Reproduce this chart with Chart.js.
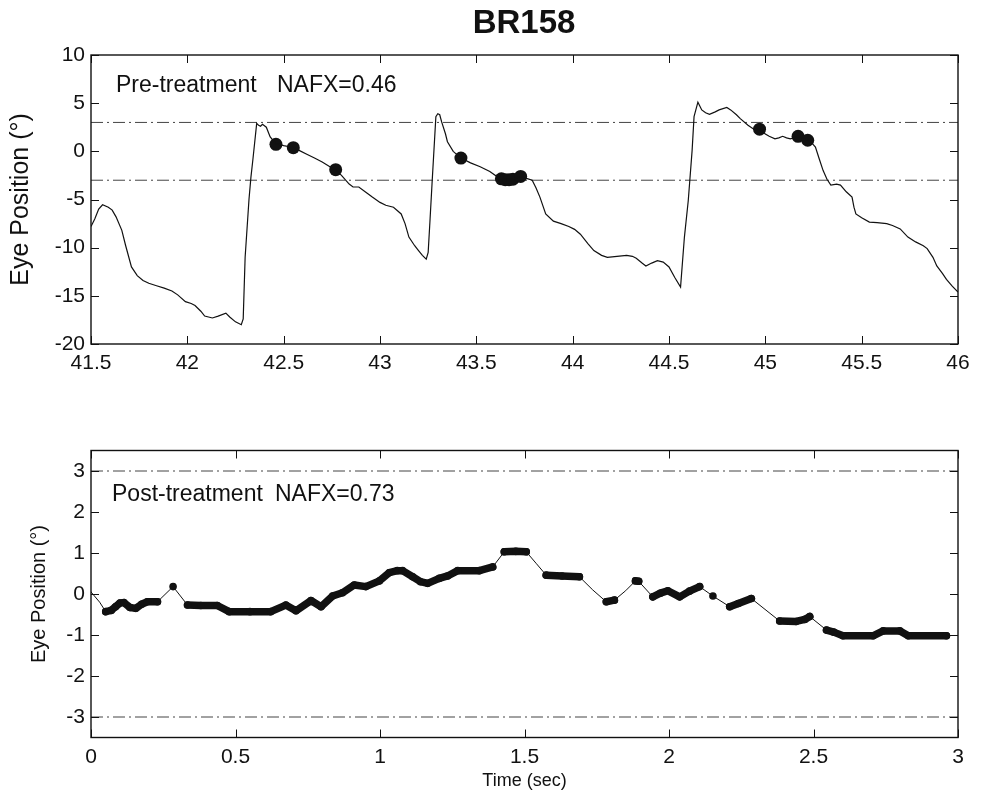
<!DOCTYPE html>
<html>
<head>
<meta charset="utf-8">
<script src="https://cdn.jsdelivr.net/npm/chart.js@4.4.1/dist/chart.umd.min.js"></script>
<style>
  body { margin: 0; background: #fff; }
  canvas { position: absolute; left: 0; }
  #graficoPre { top: 0; }
  #graficoPost { top: 400px; }
</style>
</head>
<body>
<canvas id="graficoPre" width="987" height="400"></canvas>
<canvas id="graficoPost" width="987" height="396"></canvas>
<script>
// ---- datos: pre-tratamiento (tiempo en s, posición en grados) ----
const preTime = [41.50, 41.52, 41.54, 41.56, 41.59, 41.61, 41.63, 41.66, 41.68, 41.71, 41.74, 41.77, 41.80, 41.84, 41.88, 41.92, 41.95, 41.99, 42.02, 42.04, 42.07, 42.09, 42.13, 42.16, 42.20, 42.22, 42.25, 42.28, 42.29, 42.30, 42.32, 42.33, 42.34, 42.36, 42.37, 42.38, 42.39, 42.41, 42.43, 42.46, 42.50, 42.55, 42.58, 42.62, 42.66, 42.70, 42.74, 42.77, 42.80, 42.84, 42.86, 42.89, 42.93, 42.96, 43.00, 43.03, 43.07, 43.11, 43.13, 43.15, 43.18, 43.20, 43.22, 43.24, 43.25, 43.26, 43.27, 43.29, 43.30, 43.31, 43.32, 43.34, 43.35, 43.38, 43.42, 43.47, 43.52, 43.57, 43.62, 43.66, 43.70, 43.73, 43.76, 43.79, 43.81, 43.83, 43.86, 43.90, 43.94, 43.98, 44.01, 44.04, 44.08, 44.11, 44.15, 44.18, 44.23, 44.28, 44.31, 44.33, 44.36, 44.38, 44.41, 44.44, 44.47, 44.50, 44.53, 44.56, 44.58, 44.60, 44.62, 44.63, 44.65, 44.67, 44.69, 44.71, 44.74, 44.76, 44.80, 44.82, 44.85, 44.87, 44.91, 44.94, 44.97, 45.00, 45.02, 45.05, 45.07, 45.09, 45.11, 45.13, 45.17, 45.20, 45.22, 45.24, 45.26, 45.28, 45.30, 45.32, 45.34, 45.37, 45.39, 45.42, 45.45, 45.46, 45.47, 45.50, 45.54, 45.58, 45.63, 45.66, 45.70, 45.74, 45.78, 45.82, 45.84, 45.87, 45.89, 45.92, 45.94, 45.97, 46.00];
const prePos = [-7.8, -7.0, -6.0, -5.55, -5.8, -6.1, -6.8, -8.2, -9.8, -12.0, -12.9, -13.4, -13.7, -13.95, -14.2, -14.5, -14.9, -15.6, -15.8, -16.0, -16.6, -17.1, -17.3, -17.1, -16.8, -17.2, -17.7, -18.0, -17.4, -11.0, -5.0, -2.7, -0.9, 2.9, 2.7, 2.6, 2.8, 2.5, 1.5, 0.8, 0.6, 0.4, 0.1, -0.3, -0.7, -1.1, -1.6, -1.9, -2.5, -3.4, -3.7, -3.7, -4.3, -4.75, -5.3, -5.6, -5.8, -6.5, -7.5, -8.9, -9.8, -10.3, -10.8, -11.2, -10.5, -7.0, -3.4, 3.6, 3.9, 3.8, 3.05, 1.8, 1.0, 0.0, -0.7, -1.2, -1.6, -2.1, -2.8, -2.9, -2.8, -2.6, -2.8, -3.0, -3.8, -4.75, -6.5, -7.25, -7.5, -7.8, -8.1, -8.6, -9.6, -10.3, -10.8, -11.0, -10.9, -10.8, -10.9, -11.1, -11.6, -11.9, -11.6, -11.35, -11.5, -12.0, -13.1, -14.1, -8.9, -5.1, 0.1, 3.6, 5.1, 4.3, 4.0, 3.85, 4.1, 4.3, 4.55, 4.3, 3.8, 3.4, 2.7, 2.3, 2.3, 1.8, 1.56, 1.3, 1.4, 1.56, 1.4, 1.3, 1.56, 1.3, 1.15, 0.9, 0.45, -0.8, -2.0, -2.9, -3.5, -3.4, -3.5, -4.2, -4.75, -5.8, -6.5, -6.9, -7.35, -7.4, -7.5, -7.7, -8.05, -8.9, -9.4, -9.8, -10.1, -11.0, -11.9, -12.7, -13.3, -14.0, -14.6];
// fijaciones marcadas (círculos)
const preFixTime = [42.46, 42.55, 42.77, 43.42, 43.63, 43.65, 43.67, 43.69, 43.73, 44.97, 45.17, 45.22];
const preFixPos = [0.73, 0.38, -1.9, -0.7, -2.85, -2.95, -2.95, -2.9, -2.6, 2.3, 1.56, 1.15];

// ---- datos: post-tratamiento ----
const postTime = [0.000, 0.030, 0.051, 0.070, 0.085, 0.100, 0.114, 0.135, 0.155, 0.175, 0.195, 0.230, 0.284, 0.334, 0.380, 0.437, 0.478, 0.550, 0.622, 0.674, 0.709, 0.761, 0.796, 0.836, 0.870, 0.911, 0.951, 0.998, 1.032, 1.060, 1.078, 1.113, 1.140, 1.165, 1.205, 1.234, 1.269, 1.344, 1.390, 1.430, 1.470, 1.506, 1.540, 1.575, 1.630, 1.690, 1.736, 1.783, 1.811, 1.850, 1.884, 1.895, 1.944, 1.970, 1.996, 2.037, 2.071, 2.106, 2.152, 2.210, 2.240, 2.285, 2.383, 2.440, 2.470, 2.487, 2.545, 2.570, 2.602, 2.706, 2.741, 2.799, 2.828, 2.960];
const postPos = [0.05, -0.2, -0.43, -0.40, -0.31, -0.22, -0.21, -0.33, -0.35, -0.25, -0.19, -0.19, 0.18, -0.27, -0.28, -0.28, -0.43, -0.43, -0.43, -0.27, -0.41, -0.16, -0.31, -0.05, 0.03, 0.22, 0.18, 0.32, 0.52, 0.57, 0.57, 0.42, 0.30, 0.26, 0.38, 0.44, 0.57, 0.57, 0.66, 1.03, 1.04, 1.03, 0.75, 0.46, 0.44, 0.42, 0.10, -0.19, -0.15, 0.08, 0.32, 0.31, -0.07, 0.02, 0.08, -0.07, 0.07, 0.18, -0.05, -0.31, -0.23, -0.11, -0.66, -0.67, -0.62, -0.55, -0.88, -0.93, -1.02, -1.02, -0.90, -0.90, -1.02, -1.02];
// número de fijación de cada punto (0 = sin fijación)
const postFix = [0, 0, 1, 1, 1, 1, 1, 1, 1, 1, 1, 1, 2, 3, 3, 3, 3, 3, 3, 3, 3, 3, 3, 3, 3, 3, 3, 3, 3, 3, 3, 3, 3, 3, 3, 3, 3, 3, 3, 4, 4, 4, 0, 5, 5, 5, 0, 6, 6, 0, 7, 7, 8, 8, 8, 8, 8, 8, 9, 10, 10, 10, 11, 11, 11, 11, 12, 12, 12, 12, 12, 12, 12, 12];

// ventana de foveación (±3°)
const limites = [3, -3];

// ejes
const preXTicks = [41.5, 42, 42.5, 43, 43.5, 44, 44.5, 45, 45.5, 46];
const preYTicks = [-20, -15, -10, -5, 0, 5, 10];
const postXTicks = [0, 0.5, 1, 1.5, 2, 2.5, 3];
const postYTicks = [-3, -2, -1, 0, 1, 2, 3];
const preXRange = [41.5, 46];
const preYRange = [-20, 10];
const postXRange = [0, 3];
const postYRange = [-3.5, 3.5];

Chart.defaults.font.family = '"Liberation Sans", Arial, Helvetica, sans-serif';
Chart.defaults.color = '#111';

// caja y marcas hacia dentro, estilo MATLAB
const marcoMatlab = {
    id: 'marcoMatlab',
    afterDatasetsDraw(chart) {
        const { ctx, chartArea: a, scales: { x, y } } = chart;
        ctx.save();
        ctx.strokeStyle = '#111';
        ctx.lineWidth = 1.4;
        ctx.strokeRect(a.left, a.top, a.right - a.left, a.bottom - a.top);
        ctx.beginPath();
        x.ticks.forEach(t => {
            const px = Math.round(x.getPixelForValue(t.value)) + 0.5;
            ctx.moveTo(px, a.bottom); ctx.lineTo(px, a.bottom - 8);
            ctx.moveTo(px, a.top); ctx.lineTo(px, a.top + 8);
        });
        y.ticks.forEach(t => {
            const py = Math.round(y.getPixelForValue(t.value)) + 0.5;
            ctx.moveTo(a.left, py); ctx.lineTo(a.left + 8, py);
            ctx.moveTo(a.right, py); ctx.lineTo(a.right - 8, py);
        });
        ctx.lineWidth = 1;
        ctx.stroke();
        ctx.restore();
    }
};

function textos(lista) {
    return {
        id: 'textos',
        afterDraw(chart) {
            const ctx = chart.ctx;
            ctx.save();
            lista.forEach(t => {
                ctx.font = t.font;
                ctx.fillStyle = '#111';
                ctx.textAlign = t.align || 'left';
                ctx.textBaseline = 'middle';
                ctx.fillText(t.text, t.x, t.y);
            });
            ctx.restore();
        }
    };
}

function lineaLimite(valor, rango) {
    return {
        data: [{ x: rango[0], y: valor }, { x: rango[1], y: valor }],
        borderColor: '#444',
        borderWidth: 1,
        borderDash: [12, 4, 2, 4],
        pointRadius: 0,
        fill: false
    };
}

function ejes(xRange, yRange, xTicks, yTicks, yTitle, xTitle) {
    return {
        x: {
            type: 'linear',
            min: xRange[0], max: xRange[1],
            afterBuildTicks: s => { s.ticks = xTicks.map(v => ({ value: v })); },
            grid: { display: false, drawTicks: false },
            border: { display: false },
            ticks: { padding: 7, maxRotation: 0, autoSkip: false, font: { size: 21 }, callback: v => String(v) },
            title: xTitle
        },
        y: {
            type: 'linear',
            min: yRange[0], max: yRange[1],
            afterBuildTicks: s => { s.ticks = yTicks.map(v => ({ value: v })); },
            grid: { display: false, drawTicks: false },
            border: { display: false },
            ticks: { padding: 6, autoSkip: false, font: { size: 21 }, callback: v => String(v) },
            title: yTitle
        }
    };
}

// ---- gráfico superior ----
const escalasPre = ejes(preXRange, preYRange, preXTicks, preYTicks,
    { display: true, text: 'Eye Position (°)', font: { size: 25 }, padding: { top: 6, bottom: 0 } },
    { display: false });
escalasPre.x.afterFit = s => { s.height = 56; };
escalasPre.y.afterFit = s => { s.width = 91; };

new Chart(document.getElementById('graficoPre'), {
    type: 'line',
    data: {
        datasets: [
            {
                data: preTime.map((t, i) => ({ x: t, y: prePos[i] })),
                borderColor: '#111',
                borderWidth: 1.2,
                pointRadius: 0,
                tension: 0
            },
            {
                type: 'scatter',
                data: preFixTime.map((t, i) => ({ x: t, y: preFixPos[i] })),
                backgroundColor: '#111',
                borderWidth: 0,
                pointRadius: 6.5
            },
            ...limites.map(v => lineaLimite(v, preXRange))
        ]
    },
    options: {
        responsive: false,
        animation: false,
        layout: { padding: { top: 55, right: 29, left: 0, bottom: 0 } },
        plugins: { legend: { display: false }, tooltip: { enabled: false } },
        scales: escalasPre
    },
    plugins: [marcoMatlab, textos([
        { text: 'BR158', x: 524, y: 24, font: 'bold 33px "Liberation Sans", Arial', align: 'center' },
        { text: 'Pre-treatment', x: 116, y: 86, font: '23px "Liberation Sans", Arial' },
        { text: 'NAFX=0.46', x: 277, y: 86, font: '23px "Liberation Sans", Arial' }
    ])]
});

// ---- gráfico inferior ----
const escalasPost = ejes(postXRange, postYRange, postXTicks, postYTicks,
    { display: true, text: 'Eye Position (°)', font: { size: 20 }, padding: { top: 27, bottom: 0 } },
    { display: true, text: 'Time (sec)', font: { size: 18 }, padding: { top: 0, bottom: 4 } });
escalasPost.x.afterFit = s => { s.height = 58.5; };
escalasPost.y.afterFit = s => { s.width = 91; };

new Chart(document.getElementById('graficoPost'), {
    type: 'line',
    data: {
        datasets: [
            {
                data: postTime.map((t, i) => ({ x: t, y: postPos[i] })),
                borderColor: '#111',
                backgroundColor: '#111',
                borderWidth: 1,
                borderCapStyle: 'round',
                borderJoinStyle: 'round',
                pointRadius: ctx => postFix[ctx.dataIndex] ? 3.8 : 0,
                pointBorderWidth: 0,
                tension: 0,
                segment: {
                    borderWidth: ctx => {
                        const a = postFix[ctx.p0DataIndex], b = postFix[ctx.p1DataIndex];
                        return a && a === b ? 7.5 : 1;
                    }
                }
            },
            ...limites.map(v => lineaLimite(v, postXRange))
        ]
    },
    options: {
        responsive: false,
        animation: false,
        layout: { padding: { top: 50.5, right: 29, left: 0, bottom: 0 } },
        plugins: { legend: { display: false }, tooltip: { enabled: false } },
        scales: escalasPost
    },
    plugins: [marcoMatlab, textos([
        { text: 'Post-treatment', x: 112, y: 95, font: '23px "Liberation Sans", Arial' },
        { text: 'NAFX=0.73', x: 275, y: 95, font: '23px "Liberation Sans", Arial' }
    ])]
});
</script>
</body>
</html>
